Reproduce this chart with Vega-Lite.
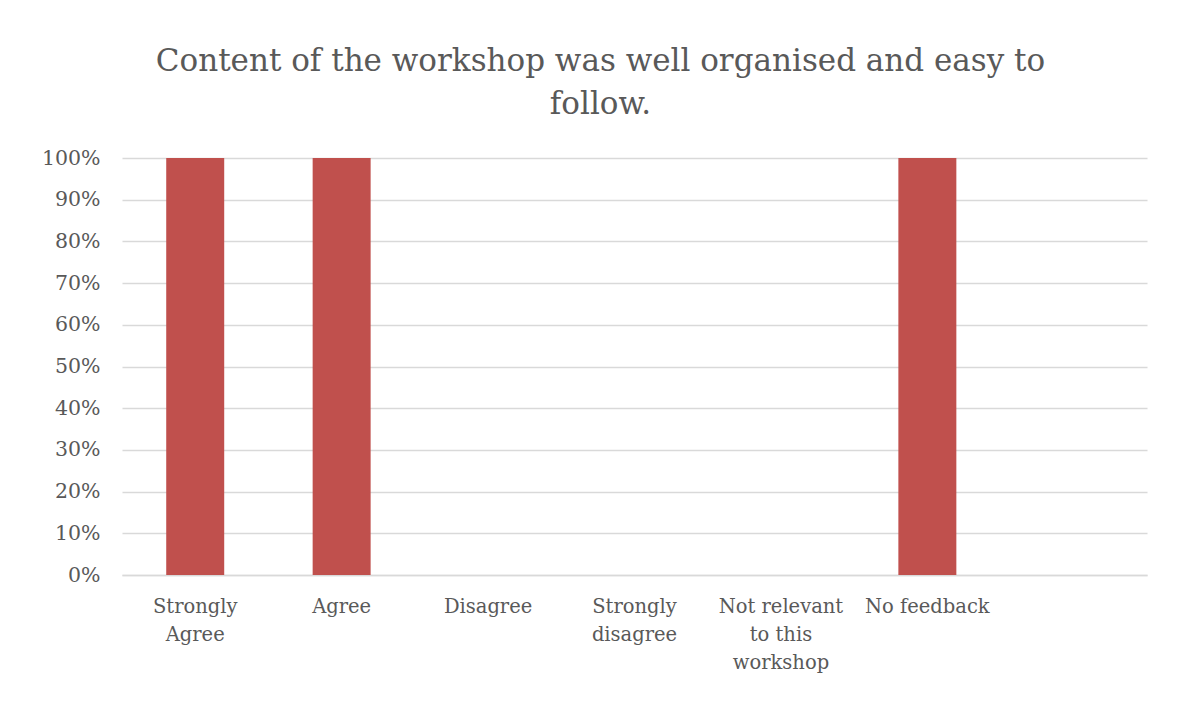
{
  "$schema": "https://vega.github.io/schema/vega-lite/v6.json",
  "autosize": "none",
  "width": 1025,
  "height": 417,
  "padding": {"left": 122, "top": 158, "right": 42, "bottom": 141},
  "background": "white",
  "title": {
    "text": ["Content of the workshop was well organised and easy to", "follow."],
    "font": "DejaVu Serif",
    "fontSize": 31,
    "fontWeight": "normal",
    "color": "#595959",
    "lineHeight": 43,
    "anchor": "middle",
    "dx": -34,
    "offset": 27
  },
  "data": {
    "values": [
      {"response": "Strongly Agree", "share": 1},
      {"response": "Agree", "share": 1},
      {"response": "Disagree", "share": 0},
      {"response": "Strongly disagree", "share": 0},
      {"response": "Not relevant to this workshop", "share": 0},
      {"response": "No feedback", "share": 1}
    ]
  },
  "mark": {"type": "bar", "color": "#C0504D"},
  "encoding": {
    "x": {
      "field": "response",
      "type": "nominal",
      "sort": null,
      "scale": {
        "domain": ["Strongly Agree", "Agree", "Disagree", "Strongly disagree", "Not relevant to this workshop", "No feedback", " "],
        "paddingInner": 0.604,
        "paddingOuter": 0.302
      },
      "axis": {
        "title": null,
        "labelAngle": 0,
        "labelFont": "DejaVu Serif",
        "labelFontSize": 19.5,
        "labelColor": "#595959",
        "labelLineHeight": 28,
        "labelPadding": 22,
        "labelBaseline": "top",
        "ticks": false,
        "domainColor": "#d9d9d9",
        "domainWidth": 1.5,
        "labelExpr": "datum.value == 'Strongly Agree' ? ['Strongly', 'Agree'] : datum.value == 'Strongly disagree' ? ['Strongly', 'disagree'] : datum.value == 'Not relevant to this workshop' ? ['Not relevant', 'to this', 'workshop'] : datum.value"
      }
    },
    "y": {
      "field": "share",
      "type": "quantitative",
      "scale": {"domain": [0, 1]},
      "axis": {
        "title": null,
        "format": ".0%",
        "values": [0, 0.1, 0.2, 0.3, 0.4, 0.5, 0.6, 0.7, 0.8, 0.9, 1],
        "labelFont": "DejaVu Serif",
        "labelFontSize": 20.5,
        "labelColor": "#595959",
        "labelPadding": 22,
        "ticks": false,
        "domain": false,
        "gridColor": "#d9d9d9",
        "gridWidth": 1.5
      }
    }
  },
  "config": {"view": {"stroke": null}}
}
